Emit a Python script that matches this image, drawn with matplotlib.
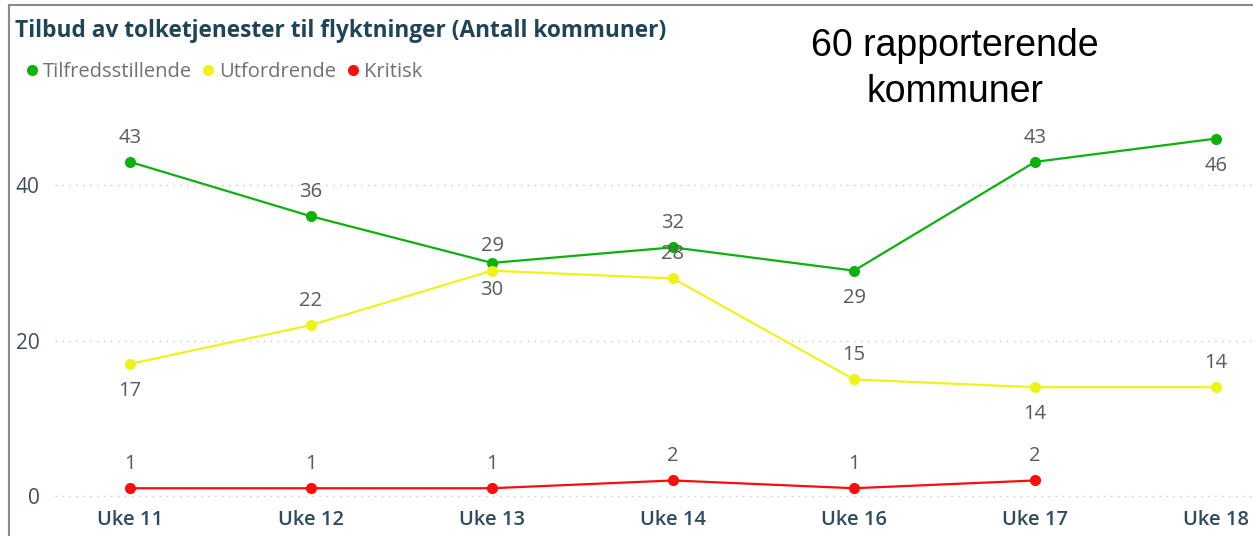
import numpy as np
import matplotlib.pyplot as plt
from matplotlib.lines import Line2D

weeks = ['Uke 11', 'Uke 12', 'Uke 13', 'Uke 14', 'Uke 16', 'Uke 17', 'Uke 18']
tilfreds = [43, 36, 30, 32, 29, 43, 46]
utford = [17, 22, 29, 28, 15, 14, 14]
kritisk = [1, 1, 1, 2, 1, 2, np.nan]

# label placement: 1 = above point, -1 = below point
pos_tilfreds = [1, 1, -1, 1, -1, 1, -1]
pos_utford = [-1, 1, 1, 1, 1, -1, 1]
pos_kritisk = [1, 1, 1, 1, 1, 1, 1]

green = '#0cb20c'
yellow = '#eef31a'
red = '#fb0d0d'
font = 'Open Sans'

fig = plt.figure(figsize=(12.53, 5.36), dpi=100)
ax = fig.add_axes([55 / 1253, 32 / 536, 1 - 55 / 1253, 394 / 536])

x = np.arange(len(weeks))
series = [(tilfreds, green, 'Tilfredsstillende', pos_tilfreds),
          (utford, yellow, 'Utfordrende', pos_utford),
          (kritisk, red, 'Kritisk', pos_kritisk)]
for vals, col, name, pos in series:
    ax.plot(x, vals, color=col, lw=1.6, marker='o', ms=7, label=name, zorder=3)
    for xi, v, p in zip(x, vals, pos):
        if np.isnan(v):
            continue
        ax.annotate(str(int(v)), (xi, v), xytext=(0, 17.5 if p > 0 else -19.5),
                    textcoords='offset points', ha='center', va='center',
                    fontsize=14.5, color='#5a5a5a', family=font, zorder=4)

ax.set_xlim(-75 / 181, 6 + 37 / 181)
ax.set_ylim(-8 / 7.77, 386 / 7.77)
ax.set_yticks([0, 20, 40])
ax.set_xticks(x)
ax.set_xticklabels(weeks)
for lab in ax.get_xticklabels():
    lab.set_fontsize(14.5)
    lab.set_fontweight('semibold')
    lab.set_color('#2d4a5e')
    lab.set_family(font)
for lab in ax.get_yticklabels():
    lab.set_fontsize(15)
    lab.set_color('#3f4f60')
    lab.set_family(font)
ax.tick_params(length=0)
ax.tick_params(axis='y', pad=11)
ax.tick_params(axis='x', pad=4)
ax.grid(axis='y', linestyle=(0, (1, 4)), color='#c8c8c8', lw=1)
for s in ax.spines.values():
    s.set_visible(False)

fig.text(15 / 1253, 1 - 31 / 536, 'Tilbud av tolketjenester til flyktninger (Antall kommuner)',
         fontsize=16.3, fontweight='bold', color='#1f4458', family=font, va='center')

fig.legend(loc='center left', bbox_to_anchor=(8 / 1253, 1 - 72 / 536), ncol=3,
           frameon=False, handlelength=0.6, handletextpad=0.25, columnspacing=0.5,
           prop={'family': font, 'size': 14.5}, labelcolor='#707070')
for h in fig.legends[0].legend_handles:
    h.set_linestyle('None')

fig.text(955 / 1253, 1 - 69 / 536, '60 rapporterende\nkommuner', fontsize=27,
         family='Liberation Sans', ha='center', va='center', linespacing=1.38)

fig.add_artist(Line2D([9 / 1253, 1], [1 - 5 / 536, 1 - 5 / 536], color='#8a8a8a', lw=1.5))
fig.add_artist(Line2D([9 / 1253, 9 / 1253], [0, 1 - 5 / 536], color='#8a8a8a', lw=1.5))

fig.savefig('out.png', dpi=100)
